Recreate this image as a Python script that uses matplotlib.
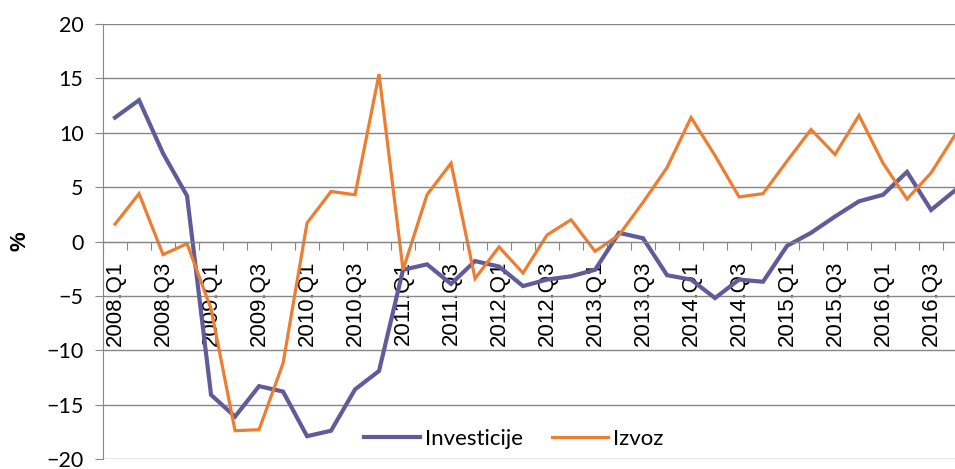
import matplotlib
matplotlib.use("Agg")
import matplotlib.pyplot as plt
import numpy as np

# quarterly data, 2008.Q1 - 2016.Q4
years = range(2008, 2017)
quarters = [f"{y}.Q{q}" for y in years for q in range(1, 5)]

investicije = [11.4, 13.0, 8.1, 4.2, -14.1, -16.1, -13.3, -13.8,
               -17.9, -17.4, -13.6, -11.9, -2.6, -2.1, -3.9, -1.8,
               -2.3, -4.1, -3.5, -3.2, -2.6, 0.8, 0.3, -3.1,
               -3.5, -5.2, -3.5, -3.7, -0.4, 0.8, 2.3, 3.7,
               4.3, 6.4, 2.9, 4.7]
izvoz = [1.6, 4.4, -1.2, -0.2, -6.2, -17.4, -17.3, -11.2,
         1.7, 4.6, 4.3, 15.4, -2.6, 4.3, 7.2, -3.4,
         -0.5, -2.9, 0.6, 2.0, -0.9, 0.6, 3.6, 6.8,
         11.4, 7.9, 4.1, 4.4, 7.4, 10.3, 8.0, 11.6,
         7.2, 3.9, 6.3, 9.8]

purple = "#605c99"
orange = "#ed7d31"
grid_grey = "#868686"

fig = plt.figure(figsize=(9.55, 4.69), dpi=100)
# plot area is wider than the picture: the last quarter sits on the right edge
ax = fig.add_axes([0.1079, 0.0213, 0.9047, 0.9275])

x = np.arange(len(quarters))
ax.plot(x, investicije, color=purple, linewidth=3.0, label="Investicije",
        solid_joinstyle="miter")
ax.plot(x, izvoz, color=orange, linewidth=2.3, label="Izvoz",
        solid_joinstyle="miter")

ax.set_xlim(-0.5, len(quarters) - 0.5)
ax.set_ylim(-20, 20)
ax.set_yticks(np.arange(-20, 21, 5))
ax.yaxis.grid(True, color=grid_grey, linewidth=1.0)
ax.set_axisbelow(True)

for s in ["top", "right"]:
    ax.spines[s].set_visible(False)
ax.spines["left"].set_color(grid_grey)
ax.spines["bottom"].set_color(grid_grey)
ax.spines["bottom"].set_position(("data", 0))

ax.tick_params(axis="y", direction="out", length=6, color=grid_grey,
               labelsize=15.5, pad=8)
for lab in ax.get_yticklabels():
    lab.set_fontfamily("Lato")

# tick marks between quarters, labels on every second quarter
ax.set_xticks(np.arange(-0.5, len(quarters), 1.0))
ax.set_xticklabels([])
ax.tick_params(axis="x", which="major", direction="out", length=6,
               color=grid_grey)
ax.set_xticks(x[::2], quarters[::2], minor=True)
ax.tick_params(axis="x", which="minor", length=0, pad=14,
               labelsize=16, labelrotation=90)
for lab in ax.get_xticklabels(minor=True):
    lab.set_fontfamily("Liberation Sans")

ax.set_ylabel("%", fontsize=16, fontweight="bold",
              fontfamily="Liberation Sans", labelpad=11)

fig.legend(loc="center", bbox_to_anchor=(0.538, 0.064), ncol=2,
           frameon=False, prop={"family": "Lato", "size": 16},
           handlelength=2.5, handletextpad=0.25, columnspacing=1.3)

fig.savefig("out.png", dpi=100)
